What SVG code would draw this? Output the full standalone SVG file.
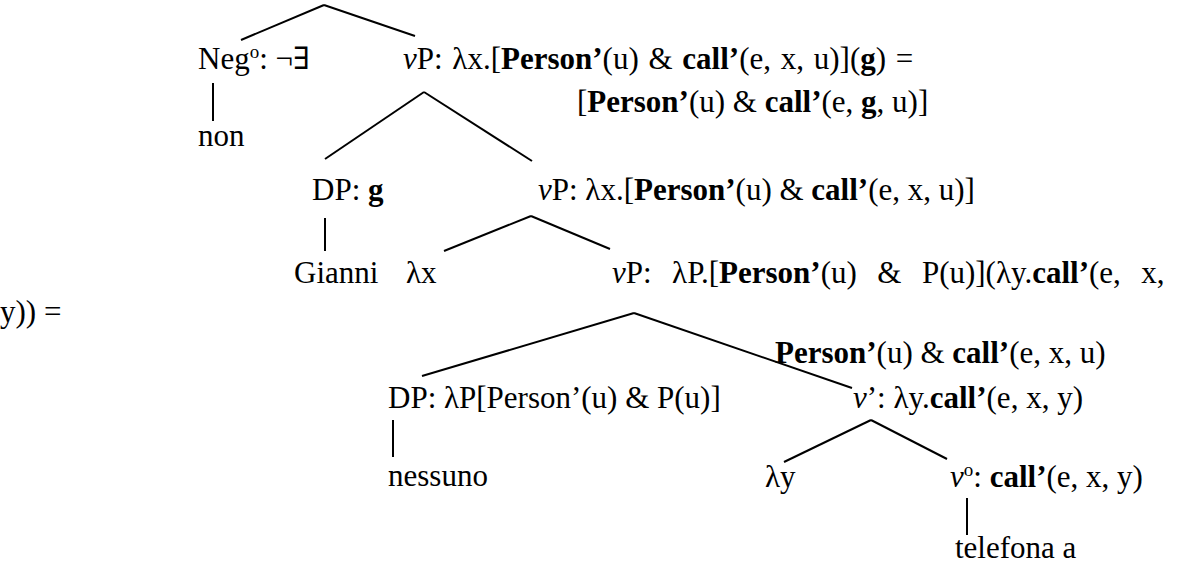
<svg xmlns="http://www.w3.org/2000/svg" width="1184" height="564" viewBox="0 0 1184 564">
<style>
.t{font-family:'Liberation Serif','DejaVu Serif',serif;font-size:31px;fill:#000}
.b{font-weight:bold}
.i{font-style:italic}
.sup{font-size:19px}
.c line{stroke:#000;stroke-width:2}
</style>
<rect width="1184" height="564" fill="#fff"/>
<g id="connectors" class="c">
<line x1="241" y1="40" x2="324" y2="5"/>
<line x1="324" y1="5" x2="415" y2="36"/>
<line x1="213" y1="83" x2="213" y2="121"/>
<line x1="424" y1="92" x2="325" y2="159"/>
<line x1="424" y1="92" x2="532" y2="161"/>
<line x1="325" y1="218" x2="325" y2="251"/>
<line x1="531" y1="216" x2="444" y2="251"/>
<line x1="531" y1="216" x2="610" y2="249"/>
<line x1="634" y1="313" x2="422" y2="376"/>
<line x1="634" y1="313" x2="852" y2="388"/>
<line x1="393" y1="420" x2="393" y2="457"/>
<line x1="871" y1="420" x2="784" y2="462"/>
<line x1="871" y1="420" x2="947" y2="459"/>
<line x1="967" y1="498" x2="967" y2="535"/>
</g>
<g class="t">
<g id="neg"><text x="198" y="69">Neg<tspan class="sup" dy="-11">o</tspan><tspan dy="11">: ¬∃</tspan></text></g>
<g id="non"><text x="198" y="146">non</text></g>
<g id="vp1"><text x="403" y="69" word-spacing="2"><tspan class="i">v</tspan>P: λx.[<tspan class="b">Person’</tspan>(u) &amp; <tspan class="b">call’</tspan>(e, x, u)](<tspan class="b">g</tspan>) =</text>
<text x="577" y="112">[<tspan class="b">Person’</tspan>(u) &amp; <tspan class="b">call’</tspan>(e, <tspan class="b">g</tspan>, u)]</text></g>
<g id="dpg"><text x="312" y="200">DP: <tspan class="b">g</tspan></text></g>
<g id="gianni"><text x="294" y="283">Gianni</text></g>
<g id="vp2"><text x="538" y="200"><tspan class="i">v</tspan>P: λx.[<tspan class="b">Person’</tspan>(u) &amp; <tspan class="b">call’</tspan>(e, x, u)]</text></g>
<g id="lx"><text x="406" y="283">λx</text></g>
<g id="vp3"><text x="612" y="283" xml:space="preserve" word-spacing="2.5"><tspan class="i">v</tspan>P:  λP.[<tspan class="b">Person’</tspan>(u)  &amp;  P(u)](λy.<tspan class="b">call’</tspan>(e,  x,</text>
<text x="0" y="322">y)) =</text>
<text x="775" y="363"><tspan class="b">Person’</tspan>(u) &amp; <tspan class="b">call’</tspan>(e, x, u)</text></g>
<g id="dp2"><text x="388" y="408">DP: λP[Person’(u) &amp; P(u)]</text></g>
<g id="nessuno"><text x="388" y="486">nessuno</text></g>
<g id="vbar"><text x="853" y="408"><tspan class="i">v</tspan>’: λy.<tspan class="b">call’</tspan>(e, x, y)</text></g>
<g id="ly"><text x="765" y="487">λy</text></g>
<g id="v0"><text x="950" y="487"><tspan class="i">v</tspan><tspan class="sup" dy="-11">o</tspan><tspan dy="11">: </tspan><tspan class="b">call’</tspan>(e, x, y)</text></g>
<g id="telefona"><text x="955" y="558">telefona a</text></g>
</g>
</svg>
